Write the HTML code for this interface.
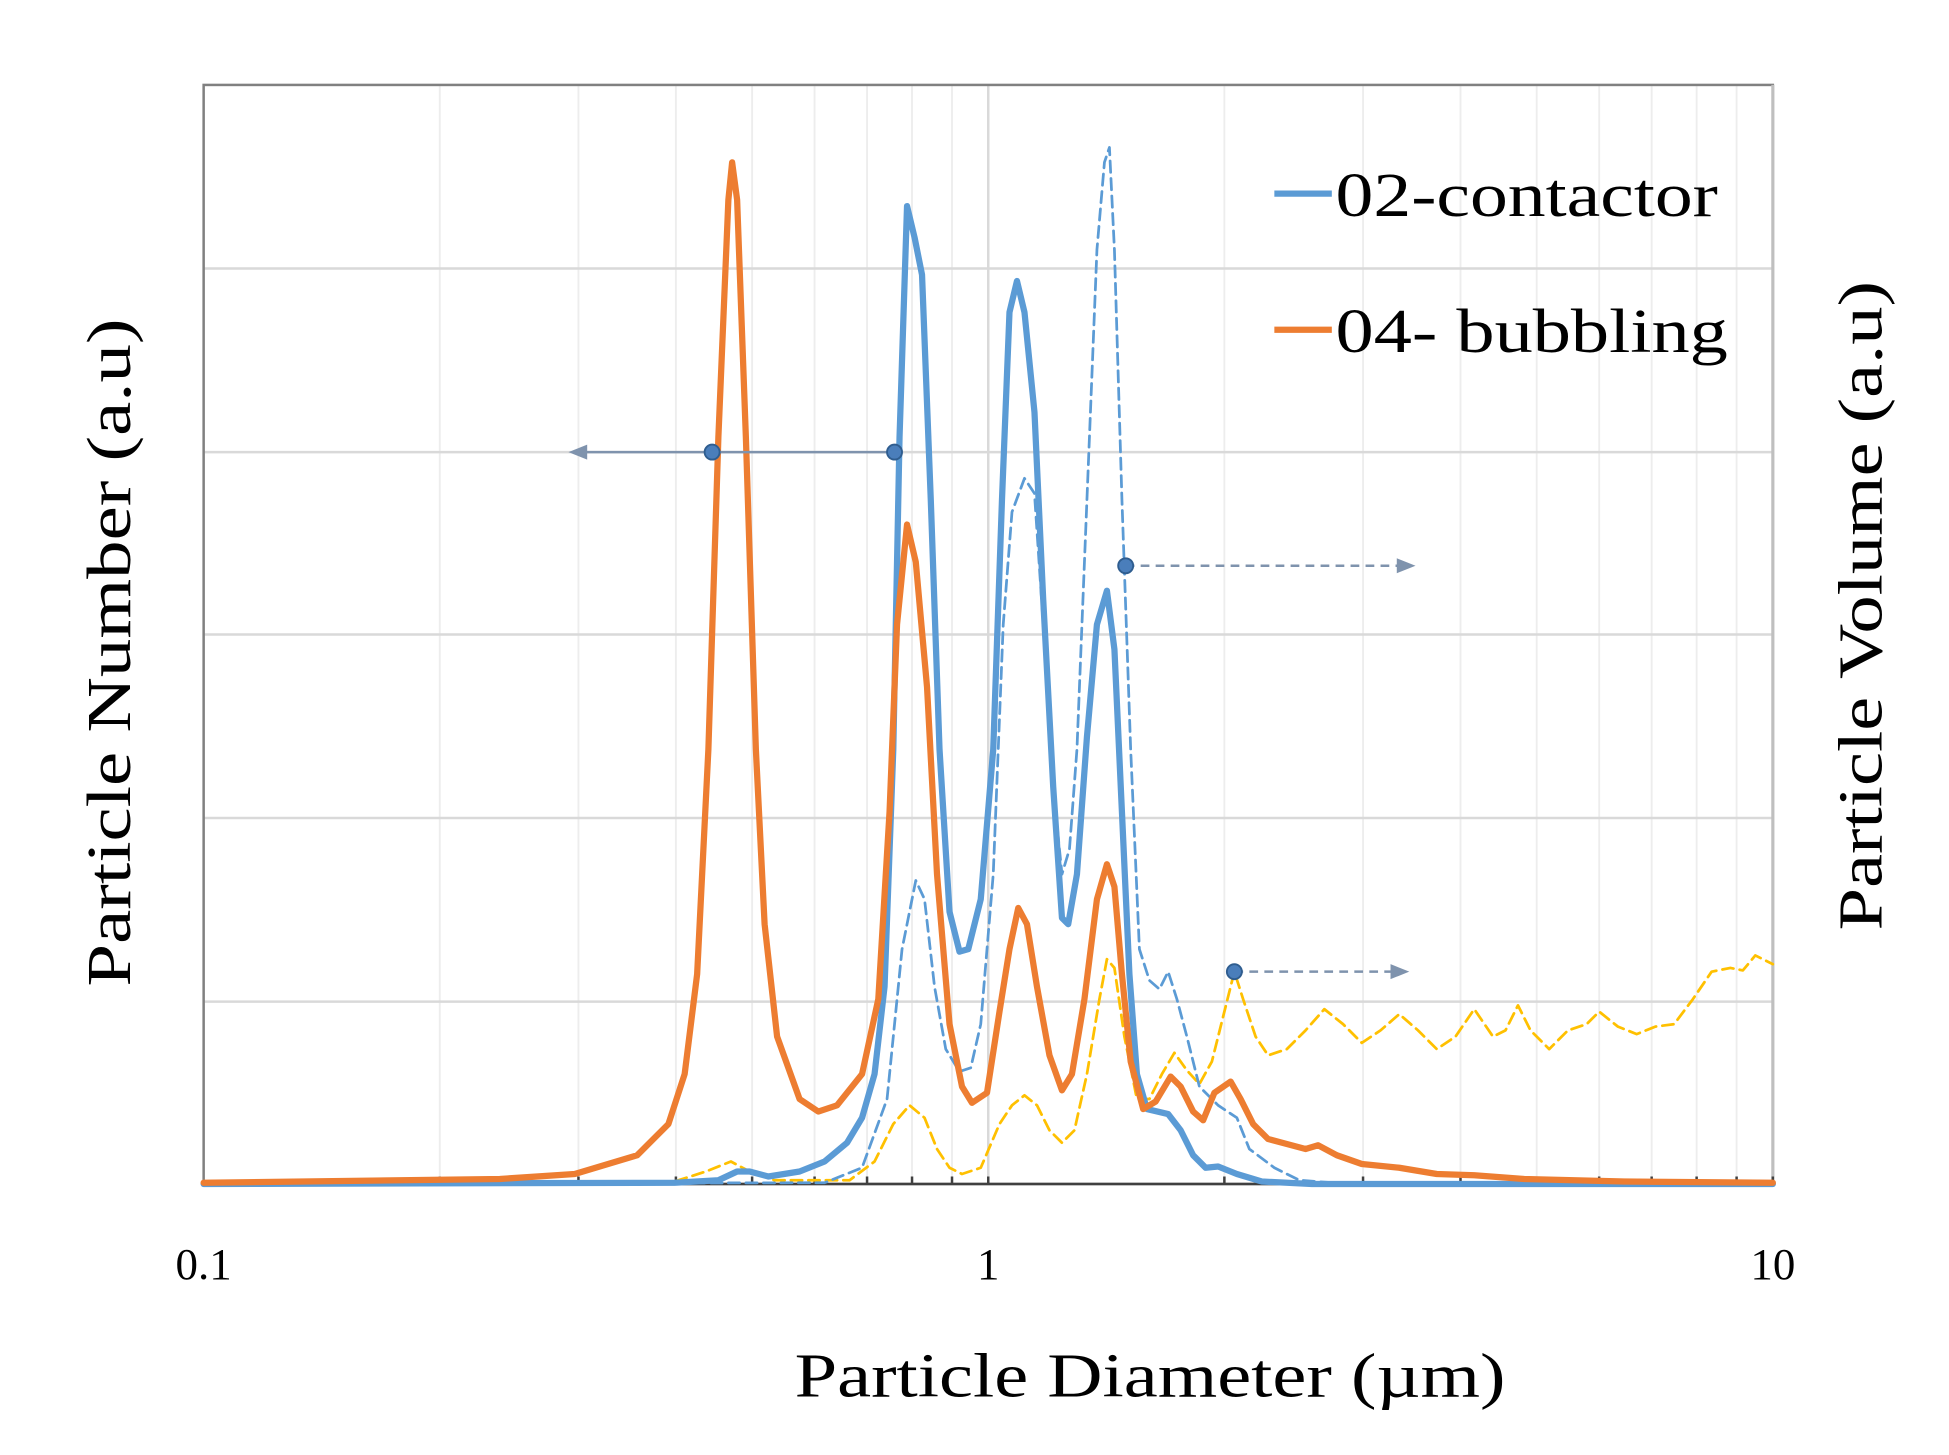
<!DOCTYPE html>
<html><head><meta charset="utf-8"><style>html,body{margin:0;padding:0;background:#fff}svg{display:block}</style></head>
<body>
<svg width="1949" height="1455" viewBox="0 0 1560 1165" preserveAspectRatio="none" xmlns="http://www.w3.org/2000/svg" font-family="'Liberation Serif',serif">
<rect width="1560" height="1165" fill="#fff"/>
<g stroke="#ededed" stroke-width="1.5">
<line x1="352" y1="68" x2="352" y2="948"/><line x1="463" y1="68" x2="463" y2="948"/><line x1="541" y1="68" x2="541" y2="948"/><line x1="602" y1="68" x2="602" y2="948"/><line x1="652" y1="68" x2="652" y2="948"/><line x1="694" y1="68" x2="694" y2="948"/><line x1="730" y1="68" x2="730" y2="948"/><line x1="762" y1="68" x2="762" y2="948"/>
<line x1="980" y1="68" x2="980" y2="948"/><line x1="1091" y1="68" x2="1091" y2="948"/><line x1="1169" y1="68" x2="1169" y2="948"/><line x1="1230" y1="68" x2="1230" y2="948"/><line x1="1280" y1="68" x2="1280" y2="948"/><line x1="1322" y1="68" x2="1322" y2="948"/><line x1="1358" y1="68" x2="1358" y2="948"/><line x1="1390" y1="68" x2="1390" y2="948"/>
</g>
<g stroke="#d9d9d9" stroke-width="2">
<line x1="163" y1="215" x2="1419" y2="215"/><line x1="163" y1="362" x2="1419" y2="362"/><line x1="163" y1="508" x2="1419" y2="508"/><line x1="163" y1="655" x2="1419" y2="655"/><line x1="163" y1="802" x2="1419" y2="802"/>
<line x1="791" y1="68" x2="791" y2="948"/>
</g>
<rect x="163" y="68" width="1256" height="880" fill="none" stroke="#808080" stroke-width="2"/>
<line x1="1419" y1="68" x2="1419" y2="948" stroke="#bfbfbf" stroke-width="2.5"/>
<line x1="163" y1="948" x2="1419" y2="948" stroke="#404040" stroke-width="2"/>
<g stroke="#404040" stroke-width="2">
<line x1="352" y1="942" x2="352" y2="948"/><line x1="463" y1="942" x2="463" y2="948"/><line x1="541" y1="942" x2="541" y2="948"/><line x1="602" y1="942" x2="602" y2="948"/><line x1="652" y1="942" x2="652" y2="948"/><line x1="694" y1="942" x2="694" y2="948"/><line x1="730" y1="942" x2="730" y2="948"/><line x1="762" y1="942" x2="762" y2="948"/><line x1="791" y1="942" x2="791" y2="948"/>
<line x1="980" y1="942" x2="980" y2="948"/><line x1="1091" y1="942" x2="1091" y2="948"/><line x1="1169" y1="942" x2="1169" y2="948"/><line x1="1230" y1="942" x2="1230" y2="948"/><line x1="1280" y1="942" x2="1280" y2="948"/><line x1="1322" y1="942" x2="1322" y2="948"/><line x1="1358" y1="942" x2="1358" y2="948"/><line x1="1390" y1="942" x2="1390" y2="948"/><line x1="1419" y1="942" x2="1419" y2="948"/>
</g>
<g fill="none" stroke-linejoin="round" stroke-linecap="round">
<polyline stroke="#ffc000" stroke-width="2.2" stroke-dasharray="9,5" points="163,947 540,946 565,938 585,930 600,938 620,945 680,945 700,930 715,900 728,885 740,895 750,920 760,935 770,940 785,935 800,900 810,885 820,877 830,885 840,905 850,915 860,905 870,860 880,800 886,768 892,775 900,830 910,880 920,880 930,860 940,843 950,857 960,868 970,850 980,810 988,778 995,800 1005,830 1015,845 1030,840 1045,825 1060,808 1075,820 1090,835 1105,825 1120,812 1135,825 1150,840 1165,830 1180,808 1195,830 1205,825 1215,805 1225,825 1240,840 1255,825 1270,820 1280,810 1295,822 1310,828 1325,822 1340,820 1355,800 1370,778 1385,775 1395,777 1405,765 1419,772"/>
<polyline stroke="#5b9bd5" stroke-width="2.2" stroke-dasharray="9,5" points="163,948 660,947 690,935 710,880 722,760 733,705 740,720 748,790 757,840 768,858 777,855 785,820 795,700 803,500 810,410 820,383 828,395 835,500 843,630 850,700 856,680 862,600 870,400 878,200 884,130 888,118 892,200 898,400 905,600 912,760 920,785 928,792 935,778 942,800 950,830 960,870 975,885 990,895 1000,920 1020,935 1040,945 1080,948 1419,948"/>
<polyline stroke="#5b9bd5" stroke-width="5" points="163,948 540,947 575,945 590,938 600,938 615,942 640,938 660,930 678,915 690,895 700,860 708,790 715,600 720,350 726,165 732,190 738,220 745,400 752,600 760,730 768,762 775,760 785,720 795,600 802,400 808,250 814,225 820,250 828,330 835,480 843,630 850,735 855,740 862,700 870,590 878,500 886,473 892,520 898,650 904,780 910,860 918,888 935,892 945,905 955,925 965,935 975,934 990,940 1010,946 1050,948 1419,948"/>
<polyline stroke="#ed7d31" stroke-width="5" points="163,947 400,944 460,940 510,925 535,900 548,860 558,780 567,600 575,350 583,160 586,130 590,160 597,350 605,600 612,740 622,830 640,880 655,890 670,885 690,860 703,800 712,650 718,500 726,420 733,450 742,550 750,700 760,820 770,870 778,883 790,875 800,810 808,760 815,727 822,740 830,790 840,845 850,873 858,860 868,800 878,720 886,692 892,710 898,780 905,850 915,888 925,882 937,862 945,870 955,890 963,897 972,875 985,866 993,880 1003,900 1015,912 1030,916 1045,920 1055,917 1070,925 1090,932 1120,935 1150,940 1180,941 1220,944 1300,946 1419,947"/>
</g>
<g stroke="#7f93ad" stroke-width="2" fill="#7f93ad">
<line x1="716" y1="362" x2="465" y2="362"/><polygon points="455,362 470,356 470,368" stroke="none"/>
<line x1="901" y1="453" x2="1122" y2="453" stroke-dasharray="7,5"/><polygon points="1133,453 1118,447 1118,459" stroke="none"/>
<line x1="988" y1="778" x2="1117" y2="778" stroke-dasharray="7,5"/><polygon points="1128,778 1113,772 1113,784" stroke="none"/>
</g>
<g fill="#4a7ebb" stroke="#2f5d8f" stroke-width="1.5">
<circle cx="570" cy="362" r="6"/><circle cx="716" cy="362" r="6"/><circle cx="901" cy="453" r="6"/><circle cx="988" cy="778" r="6"/>
</g>
<line x1="1020" y1="155" x2="1066" y2="155" stroke="#5b9bd5" stroke-width="5"/>
<line x1="1020" y1="264" x2="1066" y2="264" stroke="#ed7d31" stroke-width="5"/>
<g fill="#000">
<text x="1069" y="173" font-size="50" textLength="306" lengthAdjust="spacingAndGlyphs">02-contactor</text>
<text x="1069" y="282" font-size="50" textLength="314" lengthAdjust="spacingAndGlyphs">04- bubbling</text>
<text x="163" y="1024" font-size="36" text-anchor="middle">0.1</text>
<text x="791" y="1024" font-size="36" text-anchor="middle">1</text>
<text x="1419" y="1024" font-size="36" text-anchor="middle">10</text>
<text x="636" y="1118" font-size="50" textLength="569" lengthAdjust="spacingAndGlyphs">Particle Diameter (µm)</text>
<text transform="translate(104,790) rotate(-90)" font-size="50" textLength="535" lengthAdjust="spacingAndGlyphs">Particle Number (a.u)</text>
<text transform="translate(1506,745) rotate(-90)" font-size="50" textLength="520" lengthAdjust="spacingAndGlyphs">Particle Volume (a.u)</text>
</g>
</svg>
</body></html>
